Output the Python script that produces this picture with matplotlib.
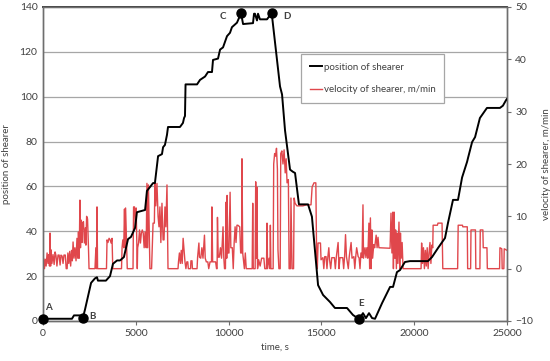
import matplotlib
matplotlib.use("Agg")
import matplotlib.pyplot as plt

# ---------------------- DATA ----------------------
# position of shearer (left axis) vs time, s
pos_t = [0, 1560, 1670, 1990, 2050, 2150, 2260, 2590, 2800, 2910, 2960, 3390, 3610, 3770,
         3990, 4150, 4360, 4580, 4740, 4960, 5060, 5500, 5600, 5930, 6030, 6200, 6410, 6470,
         6570, 6680, 6735, 7380, 7540, 7600, 7650, 7680, 8300, 8460, 8730, 8890, 9105, 9160,
         9430, 9540, 9700, 9914, 10075, 10180, 10450, 10670, 10780, 11315, 11370, 11420, 11530,
         11585, 11690, 12070, 12320, 12770, 12880, 13040, 13310, 13470, 13580, 13790, 14280,
         14490, 14820, 15090, 15460, 15730, 16380, 16700, 17030, 17240, 17400, 17565, 17730,
         17890, 18270, 18700, 18860, 19070, 19235, 19500, 19770, 20740, 20960, 21280, 21660,
         21820, 22090, 22360, 22580, 22850, 22900, 23120, 23280, 23540, 23920, 24620, 24780,
         24950, 25000]
pos = [1, 1, 2.5, 2.5, 1.5, 1.5, 5, 17, 19, 19.5, 18, 18, 20, 25.5,
       27, 27, 28.5, 36.5, 37.5, 41.5, 48.5, 49.5, 58, 61.5, 61.5, 73.5, 74.4, 77.5,
       78.5, 83, 86.5, 86.5, 88.3, 90.5, 91.4, 105.5, 105.5, 107.5, 109, 111, 111, 116.4,
       117, 121, 122, 127, 128.5, 131, 133, 137.2, 132.4, 132.8, 137, 137, 134,
       137, 134.5, 134.5, 137.4, 104.6, 101, 85, 67.5, 66.5, 66, 52, 52,
       46.5, 16, 11.6, 8.5, 5.8, 5.8, 2.7, 0.8, 3.5, 1.3, 3.5, 1.3,
       1.0, 8, 15.2, 15.2, 21.8, 22.7, 26.3, 26.7, 26.7, 28.5, 32.5, 37,
       43.7, 54, 54, 64, 71, 72.7, 79.8, 82, 90.5, 95, 95, 96,
       98.5, 99]

# velocity of shearer, m/min (right axis): (time, value)
vel_samples = [
    (0, 0), (30, 2), (80, 0), (120, 1.8), (170, 0.5), (220, 3), (270, 1), (320, 2.7), (350, 0.5),
    (380, 6.8), (410, 0.5), (430, 3.6), (480, 1), (540, 2.7), (600, 0.8), (650, 3.2), (700, 2.5),
    (750, 0.5), (810, 2.6), (870, 2.6), (920, 0.7), (970, 2.6), (1030, 2.4), (1080, 1), (1130, 2.6),
    (1200, 2.6), (1250, 0), (1300, 0), (1340, 3), (1390, 1), (1440, 3.3), (1490, 0.5), (1540, 3.5),
    (1580, 1.5), (1620, 5.1), (1670, 2), (1720, 4), (1780, 1.5), (1830, 5.8), (1880, 2), (1910, 7),
    (1950, 2), (1990, 13.1), (2020, 4), (2050, 9.3), (2100, 5), (2130, 8.7), (2180, 9), (2230, 4.9),
    (2280, 7.8), (2310, 4.5), (2350, 10), (2400, 9.5), (2450, 4), (2480, 0),
    (2800, 0), (2850, 4), (2880, 0), (2910, 11.8), (2940, 0), (3420, 0), (3450, 5.5), (3500, 5),
    (3560, 5.8), (3620, 5.5), (3670, 4.9), (3720, 5.8), (3760, 0),
    (4230, 0), (4260, 4), (4300, 5.5), (4350, 4), (4390, 11.4), (4420, 4), (4450, 11.6), (4500, 5),
    (4540, 0), (4850, 0), (4880, 11.8), (4930, 11.8), (4980, 8), (5020, 11.6), (5060, 4), (5080, 0),
    (5100, 4), (5150, 4.9), (5200, 7.4), (5250, 4.9), (5300, 6.8), (5350, 7.4), (5400, 6.8),
    (5450, 4), (5500, 7), (5560, 4), (5600, 16.3), (5640, 4), (5680, 16), (5720, 8), (5760, 0),
    (5850, 0), (5930, 8.7), (6000, 8.7), (6030, 16.3), (6080, 12), (6140, 16.3), (6200, 10),
    (6250, 8), (6300, 11.8), (6350, 5), (6410, 12.5), (6470, 5.5), (6520, 5.5), (6570, 11.8),
    (6620, 8), (6680, 16), (6735, 0),
    (7275, 0), (7300, 1.3), (7350, 3), (7400, 1), (7450, 3.5), (7500, 1), (7550, 5.8), (7600, 3.5),
    (7650, 1.3), (7700, 0), (7750, 1.3), (7800, 1.3), (7830, 0), (7950, 0), (7970, 1.5), (8030, 1.5),
    (8050, 0), (8300, 0), (8330, 2.2), (8400, 4.9), (8430, 2.2), (8500, 2), (8560, 4), (8620, 2),
    (8700, 6.4), (8740, 2), (8800, 1.3), (8880, 1.3), (8930, 0), (9000, 1.3), (9080, 1.3),
    (9100, 11.8), (9140, 1.3), (9200, 1.3), (9300, 1.3), (9350, 0), (9380, 0), (9400, 9.8),
    (9440, 2.2), (9500, 2.2), (9560, 4), (9620, 2), (9700, 8), (9740, 2.2), (9780, 0), (9830, 0),
    (9860, 12.7), (9900, 2), (9920, 14), (9960, 3), (10020, 3), (10080, 14.6), (10120, 4),
    (10200, 4), (10250, 0), (10300, 5), (10350, 8), (10400, 5), (10450, 8.3), (10500, 8.3),
    (10600, 8), (10650, 3), (10700, 3), (10720, 21), (10760, 3), (10850, 0), (10900, 3), (10950, 0),
    (11270, 0), (11300, 12.5), (11330, 0), (11430, 0), (11460, 16.6), (11500, 2), (11520, 15.6),
    (11560, 0), (11620, 1.7), (11700, 0.5), (11780, 2), (11900, 2), (11950, 0), (12040, 0),
    (12070, 8.7), (12100, 0), (12180, 2), (12230, 0), (12250, 8.3), (12280, 0), (12400, 0),
    (12430, 20), (12480, 22), (12530, 21.5), (12580, 23), (12630, 19), (12660, 3.6), (12710, 0),
    (12780, 0), (12810, 22), (12870, 22.5), (12930, 20), (12990, 22.7), (13050, 18.3), (13100, 21),
    (13150, 16.4), (13220, 17), (13260, 0), (13330, 0), (13360, 13.5), (13420, 0), (13500, 0),
    (13530, 13.5), (13580, 12.5), (13680, 12), (14000, 12), (14200, 12.2), (14440, 12.2),
    (14500, 15.6), (14600, 16.4), (14700, 16.4), (14750, 0),
    (14780, 0), (14820, 4.9), (14950, 4.9), (14980, 1.7), (15080, 2.1), (15130, 0), (15180, 2.3),
    (15250, 2.3), (15300, 0), (15350, 2.3), (15400, 4), (15440, 1.7), (15500, 0), (15560, 2.1),
    (15700, 2.1), (15750, 0), (15800, 2.1), (15900, 5), (15950, 0), (16000, 2.1), (16150, 2.1),
    (16200, 0), (16250, 2.3), (16300, 6.5), (16350, 2.3), (16450, 0), (16500, 2.3), (16600, 5),
    (16650, 2), (16750, 2.3), (16800, 0), (16850, 2.3), (16900, 4),
    (16980, 2.3), (17030, 2.1), (17080, 0), (17130, 3), (17190, 2.1), (17240, 12.2), (17270, 2),
    (17350, 4), (17400, 2.1), (17450, 4), (17500, 2), (17560, 8.7), (17600, 0), (17640, 9.7),
    (17680, 0), (17720, 7.4), (17760, 2), (17820, 4.6), (17870, 4), (17950, 6.4), (18000, 4),
    (18050, 6), (18100, 4), (18700, 3.9), (18750, 10.6), (18800, 3), (18850, 10.8), (18880, 0),
    (18920, 10.8), (18960, 2), (19000, 7.4), (19040, 0), (19080, 6.8), (19120, 1), (19180, 8.9),
    (19220, 0), (19260, 6.8), (19300, 2), (19350, 5), (19400, 0),
    (20370, 0), (20400, 4.9), (20450, 1), (20500, 4), (20550, 0), (20600, 3.5), (20650, 0.5),
    (20700, 4), (20750, 0), (20800, 3), (20850, 5), (20900, 1), (20950, 4.5), (21000, 4),
    (21020, 8.3), (21250, 8.3), (21280, 8.7), (21500, 8.7), (21540, 0), (22340, 0), (22370, 8.3),
    (22600, 8.3), (22620, 8), (22860, 8), (22880, 0), (23040, 0), (23060, 7.4), (23300, 7.4),
    (23320, 0), (23540, 0), (23560, 7.4), (23700, 7.4), (23720, 4), (23920, 4), (23940, 0),
    (24600, 0), (24620, 4), (24720, 3.8), (24740, 0), (24830, 0), (24850, 3.8), (25000, 3.5),
]
vel_t = [p[0] for p in vel_samples]
vel = [p[1] for p in vel_samples]

# marked points A..E (time, position, label offset)
point_names = ["A", "B", "C", "D", "E"]
point_t = [0, 2150, 10670, 12320, 17030]
point_pos = [1, 1.5, 137.2, 137.4, 0.8]
label_t = [270, 2640, 9700, 13130, 17130]
label_pos = [6.2, 2.2, 135.6, 135.6, 8]

# ---------------------- PLOT ----------------------
plt.rcParams['font.family'] = ['Lato', 'DejaVu Sans']
txt = '#404040'

fig = plt.figure(figsize=(5.5, 3.61), dpi=100)
ax = fig.add_axes([43/550, 40/361, 464/550, 314/361])
ax2 = ax.twinx()

ax.set_xlim(0, 25000)
ax.set_ylim(0, 140)
ax2.set_ylim(-10, 50)
ax.set_xticks(range(0, 25001, 5000))
ax.set_yticks(range(0, 141, 20))
ax2.set_yticks(range(-10, 51, 10))
ax.yaxis.grid(True, color='#a6a6a6', lw=0.9)
ax.set_axisbelow(True)

# velocity on the twin axis, position drawn on top of it using the left-axis scale
ax2.plot(vel_t, vel, color='#e0474c', lw=1.0, label='velocity of shearer, m/min', zorder=2)
ax2.plot(pos_t, pos, color='black', lw=1.4, transform=ax.transData,
         label='position of shearer', zorder=3)
ax2.plot(point_t, point_pos, 'o', color='black', ms=6.5, transform=ax.transData,
         clip_on=False, zorder=4)
for name, tx, ty in zip(point_names, label_t, label_pos):
    ax2.text(tx, ty, name, transform=ax.transData, fontsize=7, fontweight='bold',
             color=txt, ha='center', va='center', zorder=5)
ax2.set_ylim(-10, 50)

for a in (ax, ax2):
    for s in a.spines.values():
        s.set_color('#6e6e6e')
        s.set_linewidth(1.0)
ax.spines['top'].set_color('#404040')
ax.spines['top'].set_linewidth(1.4)

ax.tick_params(axis='both', labelsize=7.5, labelcolor=txt, length=0, pad=4)
ax.tick_params(axis='x', length=3, color='#6e6e6e', pad=3)
ax2.tick_params(axis='y', labelsize=7.5, labelcolor=txt, length=3, color='#6e6e6e', pad=3)

ax.set_xlabel('time, s', fontsize=7, color=txt, labelpad=3)
ax.set_ylabel('position of shearer', fontsize=7, color=txt, labelpad=6)
ax2.set_ylabel('velocity of shearer, m/min', fontsize=7, color=txt, labelpad=6)

h, l = ax2.get_legend_handles_labels()
leg = fig.legend(h[::-1], l[::-1], loc='upper left', bbox_to_anchor=(301/550, 1 - 54/361),
                 fontsize=7, frameon=True, fancybox=False, edgecolor='#a6a6a6',
                 framealpha=1, handlelength=1.3, handletextpad=0.15, labelspacing=1.4,
                 borderpad=0.9, borderaxespad=0)
leg.get_frame().set_linewidth(0.9)
for t in leg.get_texts():
    t.set_color(txt)

fig.savefig('out.png', dpi=100)
